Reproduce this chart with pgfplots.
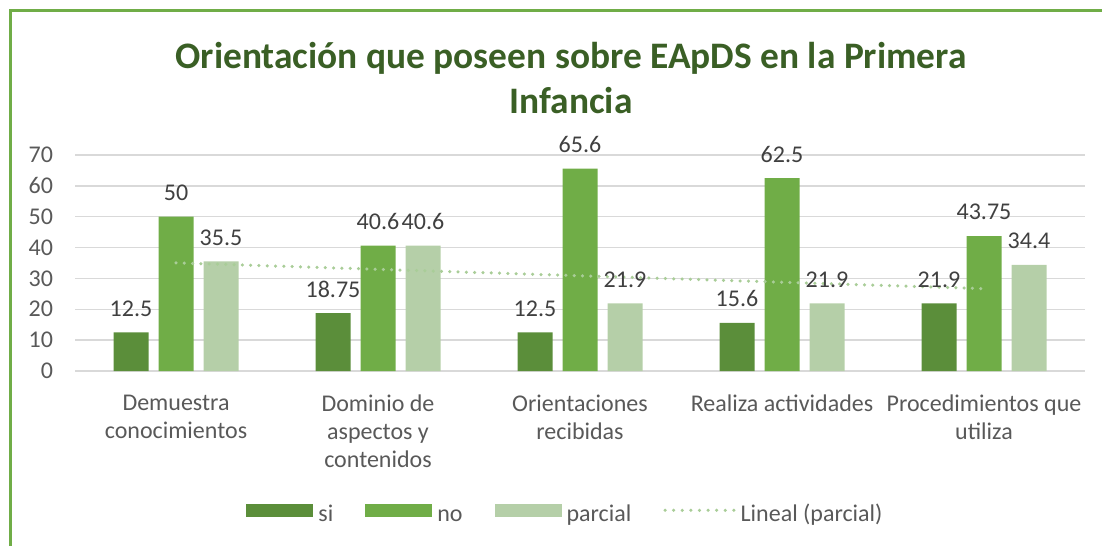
\documentclass[border=0pt]{standalone}
\usepackage{pgfplots}
\pgfplotsset{compat=1.18}
\usepackage{fontspec}
\setmainfont{Carlito}
\definecolor{si}{HTML}{5B8E3A}
\definecolor{no}{HTML}{70AD47}
\definecolor{parcial}{HTML}{B5CFA8}
\definecolor{trend}{HTML}{A9CD98}
\definecolor{ttl}{HTML}{3A5F25}
\definecolor{lbl}{HTML}{404040}
\definecolor{tickc}{HTML}{595959}
\definecolor{gridc}{HTML}{D9D9D9}
\begin{document}
\begin{tikzpicture}[x=0.5pt,y=0.5pt]
\path[use as bounding box] (0,0) rectangle (1102,546);
\draw[no, line width=1.2pt] (10.5,0) -- (10.5,535.5) -- (1102,535.5);
\node[font=\fontsize{18.7}{22.5}\selectfont\bfseries, text=ttl, align=center] at (571,468) {Orientación que poseen sobre EApDS en la Primera\\Infancia};
\begin{axis}[
  at={(37.5pt,87.5pt)}, anchor=south west, scale only axis,
  width=505pt, height=108pt,
  xmin=-0.5, xmax=4.5, ymin=0, ymax=70,
  ytick={0,10,...,70}, xtick={0,...,4},
  xticklabels={{Demuestra\\conocimientos},{Dominio de\\aspectos y\\contenidos},{Orientaciones\\recibidas},{Realiza actividades},{Procedimientos que\\utiliza}},
  ymajorgrids, grid style={gridc, line width=0.75pt},
  axis line style={draw=none}, major tick length=0pt,
  ybar, bar width=17.5pt,
  /pgf/number format/assume math mode=true,
  yticklabel style={font=\fontsize{12}{14}\selectfont, text=tickc, xshift=-7.5pt},
  xticklabel style={font=\fontsize{12}{14}\selectfont, text=tickc, align=center, yshift=-8.5pt},
  legend columns=4,
  legend style={at={(0.1693,-0.675)}, anchor=west, draw=none, fill=none, inner sep=0pt,
    font=\fontsize{12}{14}\selectfont, text=tickc,
    nodes={text height=0.7em, text depth=0.25em},
    /tikz/every odd column/.append style={column sep=0.5pt},
    /tikz/every even column/.append style={column sep=14pt}},
  every node near coord/.append style={font=\fontsize{12}{14}\selectfont, text=lbl, anchor=center, yshift=12pt},
  /pgf/number format/precision=2,
]
\addplot[fill=si, draw=none, bar shift=-22.5pt, nodes near coords,
  legend image code/.code={\fill[si] (0pt,0pt) rectangle (33.5pt,6.5pt);}]
  coordinates {(0,12.5) (1,18.75) (2,12.5) (3,15.6) (4,21.9)};
\addlegendentry{si}
\addplot[fill=no, draw=none, bar shift=0pt, nodes near coords,
  legend image code/.code={\fill[no] (0pt,0pt) rectangle (33.5pt,6.5pt);}]
  coordinates {(0,50) (1,40.6) (2,65.6) (3,62.5) (4,43.75)};
\addlegendentry{no}
\addplot[fill=parcial, draw=none, bar shift=22.5pt, nodes near coords,
  legend image code/.code={\fill[parcial] (0pt,0pt) rectangle (33.5pt,6.5pt);}]
  coordinates {(0,35.5) (1,40.6) (2,21.9) (3,21.9) (4,34.4)};
\addlegendentry{parcial}
\addplot[sharp plot, trend, line width=1.75pt, line cap=round, dash pattern=on 0pt off 4.15pt, mark=none,
  legend image code/.code={\draw[trend, line width=1.75pt, line cap=round, dash pattern=on 0pt off 4.3pt] (0pt,3.25pt) -- (34.4pt,3.25pt);}]
  coordinates {(0,35.04) (4,26.68)};
\addlegendentry{Lineal (parcial)}
\end{axis}
\end{tikzpicture}
\end{document}
